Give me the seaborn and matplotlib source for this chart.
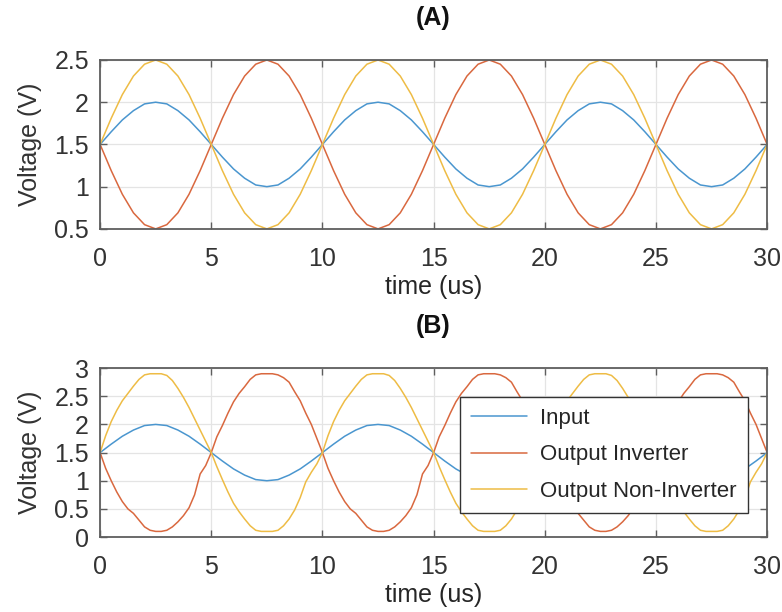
import numpy as np
import pandas as pd
import matplotlib
matplotlib.use("Agg")
import matplotlib.pyplot as plt
import seaborn as sns

# ---------------- data ----------------
labels = ["Input", "Output Inverter", "Output Non-Inverter"]
colors = ["#4a96cf", "#d9683f", "#eebc45"]

x_ticks = [0, 5, 10, 15, 20, 25, 30]
x_tick_labels = ["0", "5", "10", "15", "20", "25", "30"]
ya_ticks = [0.5, 1.0, 1.5, 2.0, 2.5]
ya_tick_labels = ["0.5", "1", "1.5", "2", "2.5"]
yb_ticks = [0, 0.5, 1.0, 1.5, 2.0, 2.5, 3.0]
yb_tick_labels = ["0", "0.5", "1", "1.5", "2", "2.5", "3"]

# sample times (us)
time_a = np.arange(0, 30.001, 0.5)    # 61 samples
time_b = np.arange(0, 30.001, 0.25)   # 121 samples

input_v = [
    1.5, 1.65, 1.79, 1.9, 1.98, 2.0, 1.98, 1.9, 1.79, 1.65,
    1.5, 1.35, 1.21, 1.1, 1.02, 1.0, 1.02, 1.1, 1.21, 1.35,
    1.5, 1.65, 1.79, 1.9, 1.98, 2.0, 1.98, 1.9, 1.79, 1.65,
    1.5, 1.35, 1.21, 1.1, 1.02, 1.0, 1.02, 1.1, 1.21, 1.35,
    1.5, 1.65, 1.79, 1.9, 1.98, 2.0, 1.98, 1.9, 1.79, 1.65,
    1.5, 1.35, 1.21, 1.1, 1.02, 1.0, 1.02, 1.1, 1.21, 1.35,
    1.5,
]

inv_a = [
    1.5, 1.19, 0.91, 0.69, 0.55, 0.5, 0.55, 0.69, 0.91, 1.19,
    1.5, 1.81, 2.09, 2.31, 2.45, 2.5, 2.45, 2.31, 2.09, 1.81,
    1.5, 1.19, 0.91, 0.69, 0.55, 0.5, 0.55, 0.69, 0.91, 1.19,
    1.5, 1.81, 2.09, 2.31, 2.45, 2.5, 2.45, 2.31, 2.09, 1.81,
    1.5, 1.19, 0.91, 0.69, 0.55, 0.5, 0.55, 0.69, 0.91, 1.19,
    1.5, 1.81, 2.09, 2.31, 2.45, 2.5, 2.45, 2.31, 2.09, 1.81,
    1.5,
]

noninv_a = [
    1.5, 1.81, 2.09, 2.31, 2.45, 2.5, 2.45, 2.31, 2.09, 1.81,
    1.5, 1.19, 0.91, 0.69, 0.55, 0.5, 0.55, 0.69, 0.91, 1.19,
    1.5, 1.81, 2.09, 2.31, 2.45, 2.5, 2.45, 2.31, 2.09, 1.81,
    1.5, 1.19, 0.91, 0.69, 0.55, 0.5, 0.55, 0.69, 0.91, 1.19,
    1.5, 1.81, 2.09, 2.31, 2.45, 2.5, 2.45, 2.31, 2.09, 1.81,
    1.5, 1.19, 0.91, 0.69, 0.55, 0.5, 0.55, 0.69, 0.91, 1.19,
    1.5,
]

inv_b = [
    1.5, 1.22, 1.0, 0.8, 0.63, 0.5, 0.42, 0.3, 0.18, 0.12,
    0.1, 0.1, 0.12, 0.18, 0.27, 0.38, 0.52, 0.75, 1.12, 1.27,
    1.5, 1.78, 1.98, 2.2, 2.4, 2.55, 2.67, 2.8, 2.88, 2.9,
    2.9, 2.9, 2.88, 2.83, 2.75, 2.58, 2.42, 2.2, 2.0, 1.75,
    1.5, 1.22, 1.0, 0.8, 0.63, 0.5, 0.42, 0.3, 0.18, 0.12,
    0.1, 0.1, 0.12, 0.18, 0.27, 0.38, 0.52, 0.75, 1.12, 1.27,
    1.5, 1.78, 1.98, 2.2, 2.4, 2.55, 2.67, 2.8, 2.88, 2.9,
    2.9, 2.9, 2.88, 2.83, 2.75, 2.58, 2.42, 2.2, 2.0, 1.75,
    1.5, 1.22, 1.0, 0.8, 0.63, 0.5, 0.42, 0.3, 0.18, 0.12,
    0.1, 0.1, 0.12, 0.18, 0.27, 0.38, 0.52, 0.75, 1.12, 1.27,
    1.5, 1.78, 1.98, 2.2, 2.4, 2.55, 2.67, 2.8, 2.88, 2.9,
    2.9, 2.9, 2.88, 2.83, 2.75, 2.58, 2.42, 2.2, 2.0, 1.75,
    1.5,
]

noninv_b = [
    1.5, 1.8, 2.05, 2.25, 2.42, 2.55, 2.68, 2.8, 2.88, 2.9,
    2.9, 2.9, 2.87, 2.78, 2.64, 2.48, 2.3, 2.1, 1.9, 1.7,
    1.5, 1.25, 1.02, 0.8, 0.6, 0.45, 0.32, 0.2, 0.12, 0.1,
    0.1, 0.1, 0.12, 0.2, 0.32, 0.48, 0.7, 0.98, 1.15, 1.3,
    1.5, 1.8, 2.05, 2.25, 2.42, 2.55, 2.68, 2.8, 2.88, 2.9,
    2.9, 2.9, 2.87, 2.78, 2.64, 2.48, 2.3, 2.1, 1.9, 1.7,
    1.5, 1.25, 1.02, 0.8, 0.6, 0.45, 0.32, 0.2, 0.12, 0.1,
    0.1, 0.1, 0.12, 0.2, 0.32, 0.48, 0.7, 0.98, 1.15, 1.3,
    1.5, 1.8, 2.05, 2.25, 2.42, 2.55, 2.68, 2.8, 2.88, 2.9,
    2.9, 2.9, 2.87, 2.78, 2.64, 2.48, 2.3, 2.1, 1.9, 1.7,
    1.5, 1.25, 1.02, 0.8, 0.6, 0.45, 0.32, 0.2, 0.12, 0.1,
    0.1, 0.1, 0.12, 0.2, 0.32, 0.48, 0.7, 0.98, 1.15, 1.3,
    1.5,
]

# ---------------- tables ----------------
df_a = pd.DataFrame({
    "time": np.concatenate([time_a, time_a, time_a]),
    "Voltage": input_v + inv_a + noninv_a,
    "Signal": [labels[0]] * len(time_a) + [labels[1]] * len(time_a) + [labels[2]] * len(time_a),
})
df_b = pd.DataFrame({
    "time": np.concatenate([time_a, time_b, time_b]),
    "Voltage": input_v + inv_b + noninv_b,
    "Signal": [labels[0]] * len(time_a) + [labels[1]] * len(time_b) + [labels[2]] * len(time_b),
})

# ---------------- style ----------------
sns.set_theme(style="whitegrid")
plt.rcParams["font.family"] = ["Liberation Sans", "DejaVu Sans"]

FS = 18
fig = plt.figure(figsize=(7.82, 6.12), dpi=100)
fig.patch.set_facecolor("white")
ax1 = fig.add_axes([0.128, 0.626, 0.853, 0.276])
ax2 = fig.add_axes([0.128, 0.1225, 0.853, 0.276])

for ax, df in ((ax1, df_a), (ax2, df_b)):
    sns.lineplot(data=df, x="time", y="Voltage", hue="Signal", hue_order=labels,
                 palette=colors, ax=ax, legend=False, estimator=None, sort=False,
                 linewidth=1.1)

panels = [
    (ax1, "(A)", (0.5, 2.5), ya_ticks, ya_tick_labels),
    (ax2, "(B)", (0, 3), yb_ticks, yb_tick_labels),
]
for ax, title, ylim, yt, ytl in panels:
    ax.set_facecolor("white")
    ax.set_xlim(0, 30)
    ax.set_ylim(*ylim)
    ax.set_xticks(x_ticks)
    ax.set_xticklabels(x_tick_labels)
    ax.set_yticks(yt)
    ax.set_yticklabels(ytl)
    ax.grid(True, color="#e4e4e4", linewidth=0.9)
    ax.set_axisbelow(True)
    for sp in ax.spines.values():
        sp.set_visible(True)
        sp.set_color("#5e5e5e")
        sp.set_linewidth(1.3)
    ax.tick_params(axis="both", which="major", direction="in", length=5, width=1,
                   color="#5e5e5e", labelsize=FS, labelcolor="#333333",
                   top=True, right=True, bottom=True, left=True)
    ax.tick_params(axis="x", pad=13)
    ax.tick_params(axis="y", pad=8)
    ax.set_xlabel("time (us)", fontsize=FS, color="#262626", labelpad=3)
    ax.set_ylabel("Voltage (V)", fontsize=FS, color="#333333", labelpad=9)
    ax.set_title(title, fontsize=FS, fontweight="bold", color="#111111", pad=25)

handles = ax2.get_lines()[:3]
leg = ax2.legend(handles, labels, loc="lower left", bbox_to_anchor=(0.54, 0.142),
                 frameon=True, fancybox=False, framealpha=1, edgecolor="#333333",
                 fontsize=16, handlelength=2.5, labelspacing=0.7, borderpad=0.5,
                 handletextpad=0.6, borderaxespad=0)
leg.get_frame().set_linewidth(1.0)
for txt in leg.get_texts():
    txt.set_color("#262626")

fig.savefig("out.png", dpi=100, facecolor="white")
